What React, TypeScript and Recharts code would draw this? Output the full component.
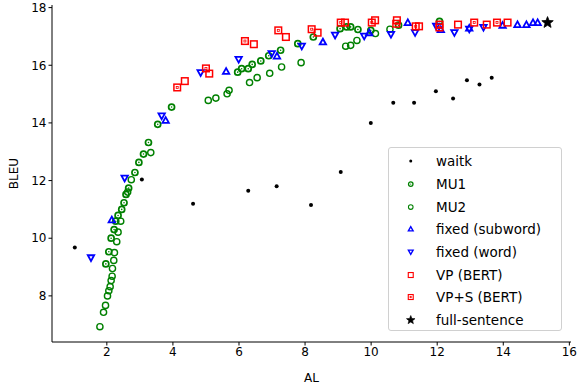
import { ScatterChart, Scatter, XAxis, YAxis, Legend, Label } from "recharts";

// [AL, BLEU]
const waitk = [
  [1.03, 9.68], [3.06, 12.04], [4.61, 11.2], [6.28, 11.65], [7.14, 11.8],
  [8.18, 11.15], [9.08, 12.3], [9.99, 14.0], [10.67, 14.7], [11.3, 14.7],
  [11.96, 15.1], [12.48, 14.85], [12.9, 15.48], [13.28, 15.33], [13.65, 15.57],
];
const mu1 = [
  [1.97, 9.11], [2.06, 9.53], [2.13, 10.0], [2.22, 10.3], [2.27, 10.59],
  [2.34, 10.79], [2.45, 11.0], [2.52, 11.23], [2.58, 11.52], [2.66, 11.74],
  [2.85, 12.28], [2.97, 12.63], [3.11, 12.92], [3.26, 13.32], [3.54, 13.95],
  [3.96, 14.55], [5.96, 15.76], [6.08, 15.88], [6.28, 15.88], [6.4, 16.03],
  [6.66, 16.15], [6.9, 16.33], [7.26, 16.52], [7.78, 16.75], [8.25, 16.98],
  [9.06, 17.27], [9.26, 17.33], [9.38, 17.33], [9.6, 17.24], [9.99, 17.21],
  [10.83, 17.39], [12.07, 17.52],
];
const mu2 = [
  [1.79, 6.93], [1.9, 7.43], [1.96, 7.67], [2.02, 8.0], [2.06, 8.18],
  [2.1, 8.32], [2.13, 8.53], [2.16, 8.68], [2.17, 8.95], [2.21, 9.23],
  [2.23, 9.5], [2.3, 9.88], [2.34, 10.21], [2.42, 10.59], [2.63, 11.6],
  [2.74, 12.03], [3.33, 12.97], [5.07, 14.78], [5.3, 14.86], [5.64, 15.01],
  [5.7, 15.13], [6.32, 15.4], [6.55, 15.57], [6.93, 15.72], [7.29, 15.94],
  [7.88, 16.09], [9.23, 16.66], [9.38, 16.69], [9.57, 16.86], [10.13, 17.1],
  [10.57, 17.25],
];
const fixedSub = [
  [2.15, 10.64], [3.78, 14.09], [5.61, 15.79], [7.15, 16.32], [8.54, 16.81],
  [9.94, 17.13], [11.11, 17.48], [12.11, 17.24], [12.97, 17.29], [13.98, 17.39],
  [14.43, 17.41], [14.7, 17.41], [14.9, 17.48], [15.04, 17.48],
];
const fixedWord = [
  [1.52, 9.32], [2.54, 12.08], [3.66, 14.24], [4.84, 15.74], [5.99, 16.2],
  [6.99, 16.4], [7.9, 16.66], [8.91, 17.04], [9.79, 17.01], [10.6, 17.07],
  [11.33, 17.13], [11.97, 17.35], [12.52, 17.13], [12.97, 17.25], [13.4, 17.31],
];
const vp = [
  [4.36, 15.45], [5.1, 15.71], [6.45, 16.73], [7.42, 16.98], [8.38, 17.13],
  [9.21, 17.48], [10.12, 17.56], [10.78, 17.56], [11.45, 17.35], [12.07, 17.41],
  [12.63, 17.41], [13.5, 17.41], [14.13, 17.48],
];
const vps = [
  [4.13, 15.23], [5.0, 15.89], [6.18, 16.84], [7.19, 17.21], [8.2, 17.25],
  [9.08, 17.48], [10.02, 17.48], [10.76, 17.44], [11.35, 17.35], [12.07, 17.31],
  [13.12, 17.48], [13.81, 17.48],
];
const full = [[15.34, 17.48]];

const xTicks = [2, 4, 6, 8, 10, 12, 14, 16];
const yTicks = [8, 10, 12, 14, 16, 18];

const toPts = (a: number[][]) => a.map(([x, y]) => ({ x, y }));

const GREEN = "#008000";
const BLUE = "#0000ff";
const RED = "#ff0000";
const FONT = "DejaVu Sans, sans-serif";

type Kind = "dot" | "mu1" | "mu2" | "up" | "down" | "sq" | "sq2" | "star";

function Marker({ kind, cx, cy }: { kind: Kind; cx: number; cy: number }) {
  if (kind === "dot") return <circle cx={cx} cy={cy} r={2} fill="#000" />;
  if (kind === "mu1")
    return (
      <g>
        <circle cx={cx} cy={cy} r={3} fill="none" stroke={GREEN} strokeWidth={1.7} />
        <circle cx={cx} cy={cy} r={0.8} fill={GREEN} />
      </g>
    );
  if (kind === "mu2")
    return <circle cx={cx} cy={cy} r={3.1} fill="none" stroke={GREEN} strokeWidth={1.4} />;
  if (kind === "up") {
    const s = 3.2;
    return (
      <polygon
        points={`${cx},${cy - s} ${cx - s},${cy + s * 0.8} ${cx + s},${cy + s * 0.8}`}
        fill="none"
        stroke={BLUE}
        strokeWidth={1.8}
      />
    );
  }
  if (kind === "down") {
    const s = 3.2;
    return (
      <polygon
        points={`${cx},${cy + s} ${cx - s},${cy - s * 0.8} ${cx + s},${cy - s * 0.8}`}
        fill="none"
        stroke={BLUE}
        strokeWidth={1.8}
      />
    );
  }
  if (kind === "sq" || kind === "sq2")
    return (
      <g>
        <rect x={cx - 3.3} y={cy - 3.3} width={6.6} height={6.6} fill="none" stroke={RED} strokeWidth={1.5} />
        {kind === "sq2" && <rect x={cx - 1} y={cy - 1} width={2} height={2} fill="none" stroke={RED} strokeWidth={0.8} />}
      </g>
    );
  // star
  const pts: string[] = [];
  for (let i = 0; i < 10; i++) {
    const r = i % 2 === 0 ? 6 : 2.6;
    const a = -Math.PI / 2 + (i * Math.PI) / 5;
    pts.push(`${cx + r * Math.cos(a)},${cy + r * Math.sin(a)}`);
  }
  return <polygon points={pts.join(" ")} fill="#000" stroke="#000" strokeWidth={0.8} />;
}

const shapeOf = (kind: Kind) => (p: any) => <Marker kind={kind} cx={p.cx} cy={p.cy} />;

const legendItems: { name: string; kind: Kind }[] = [
  { name: "waitk", kind: "dot" },
  { name: "MU1", kind: "mu1" },
  { name: "MU2", kind: "mu2" },
  { name: "fixed (subword)", kind: "up" },
  { name: "fixed (word)", kind: "down" },
  { name: "VP (BERT)", kind: "sq" },
  { name: "VP+S (BERT)", kind: "sq2" },
  { name: "full-sentence", kind: "star" },
];

function LegendBox() {
  return (
    <div
      style={{
        width: 174,
        height: 184,
        border: "1px solid #d0d0d0",
        borderRadius: 3,
        background: "rgba(255,255,255,0.85)",
        boxSizing: "border-box",
        paddingTop: 2,
      }}
    >
      {legendItems.map((it) => (
        <div key={it.name} style={{ display: "flex", alignItems: "center", height: 22.7 }}>
          <svg width={40} height={16} style={{ flex: "none" }}>
            <g transform="scale(0.75) translate(8,2.7)">
              <Marker kind={it.kind} cx={21} cy={8} />
            </g>
          </svg>
          <span style={{ fontFamily: FONT, fontSize: 13.5, color: "#000", marginLeft: 7 }}>{it.name}</span>
        </div>
      ))}
    </div>
  );
}

export default function App() {
  return (
    <div style={{ position: "absolute", left: 0, top: 0, width: 578, height: 384, background: "#fff" }}>
      <ScatterChart width={578} height={384} margin={{ top: 5, right: 7, bottom: 0, left: 0 }}>
        <XAxis
          type="number"
          dataKey="x"
          domain={[0.34, 16.05]}
          ticks={xTicks}
          allowDataOverflow
          height={42}
          stroke="#000"
          tickSize={3.5}
          tick={{ fill: "#000", fontSize: 12, fontFamily: FONT }}
        >
          <Label value="AL" position="insideBottom" offset={2} style={{ fill: "#000", fontSize: 12, fontFamily: FONT }} />
        </XAxis>
        <XAxis xAxisId="top" orientation="top" type="number" domain={[0.34, 16.05]} height={0} tick={false} tickLine={false} stroke="#000" />
        <YAxis
          type="number"
          dataKey="y"
          domain={[6.4, 18.09]}
          ticks={yTicks}
          allowDataOverflow
          width={52}
          stroke="#000"
          tickSize={3.5}
          tick={{ fill: "#000", fontSize: 12, fontFamily: FONT }}
        >
          <Label value="BLEU" angle={-90} position="insideLeft" offset={14} style={{ fill: "#000", fontSize: 12, fontFamily: FONT, textAnchor: "middle" }} />
        </YAxis>
        <YAxis yAxisId="right" orientation="right" type="number" domain={[6.4, 18.09]} width={0} tick={false} tickLine={false} stroke="#000" />
        <Legend
          layout="horizontal"
          verticalAlign="middle"
          align="center"
          wrapperStyle={{ position: "absolute", left: 388, top: 147, width: 174, height: 184 }}
          content={() => <LegendBox />}
        />
        <Scatter name="waitk" data={toPts(waitk)} shape={shapeOf("dot")} isAnimationActive={false} />
        <Scatter name="MU1" data={toPts(mu1)} shape={shapeOf("mu1")} isAnimationActive={false} />
        <Scatter name="MU2" data={toPts(mu2)} shape={shapeOf("mu2")} isAnimationActive={false} />
        <Scatter name="fixed (subword)" data={toPts(fixedSub)} shape={shapeOf("up")} isAnimationActive={false} />
        <Scatter name="fixed (word)" data={toPts(fixedWord)} shape={shapeOf("down")} isAnimationActive={false} />
        <Scatter name="VP (BERT)" data={toPts(vp)} shape={shapeOf("sq")} isAnimationActive={false} />
        <Scatter name="VP+S (BERT)" data={toPts(vps)} shape={shapeOf("sq2")} isAnimationActive={false} />
        <Scatter name="full-sentence" data={toPts(full)} shape={shapeOf("star")} isAnimationActive={false} />
      </ScatterChart>
    </div>
  );
}
